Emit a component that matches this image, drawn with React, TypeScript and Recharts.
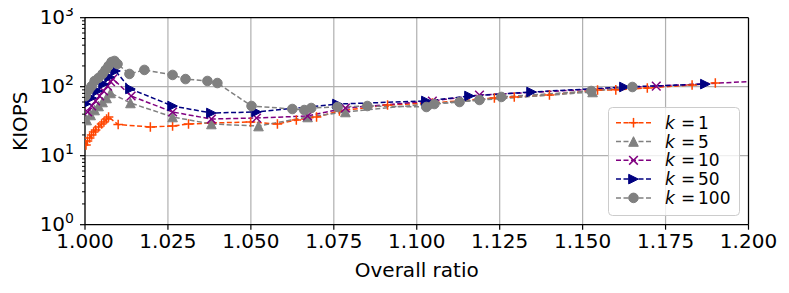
import React from 'react';
import { LineChart, Line, XAxis, YAxis, CartesianGrid, ReferenceLine, Legend } from 'recharts';

const FONT = '"DejaVu Sans", "Liberation Sans", sans-serif';

// Tick values
const xTicks = [1.0, 1.025, 1.05, 1.075, 1.1, 1.125, 1.15, 1.175, 1.2];
const yMajorTicks = [1, 10, 100, 1000];
const yMinorTicks = [2, 3, 4, 5, 6, 7, 8, 9, 20, 30, 40, 50, 60, 70, 80, 90, 200, 300, 400, 500, 600, 700, 800, 900];

// k = 1
const k1Ratio = [1.0003, 1.00075, 1.0014, 1.002, 1.0026, 1.0032, 1.0041, 1.005, 1.0057, 1.0065, 1.0071, 1.01, 1.0197, 1.0264, 1.0312, 1.0381, 1.0499, 1.058, 1.0637, 1.0698, 1.0767, 1.0912, 1.1047, 1.1234, 1.1294, 1.14, 1.1545, 1.16, 1.1695, 1.183, 1.19];
const k1Kiops = [14.3, 16.3, 18.1, 20.0, 22.0, 23.6, 26.0, 28.8, 30.8, 34.0, 36.4, 28.3, 26.1, 26.9, 28.8, 29.8, 30.8, 28.8, 32.9, 36.4, 44.5, 54.3, 58.1, 68.6, 71.0, 75.8, 89.6, 90.0, 95.7, 106, 113];

// k = 5
const k5Ratio = [1.0005, 1.0017, 1.0029, 1.0041, 1.0053, 1.0065, 1.0077, 1.0137, 1.0264, 1.0381, 1.0523, 1.0671, 1.0785, 1.103, 1.153];
const k5Kiops = [32.9, 38.9, 45.9, 52.5, 60.0, 68.6, 81.1, 58.1, 36.4, 28.8, 26.9, 36.4, 43.0, 56.1, 83.8];

// k = 10
const k10Ratio = [1.0008, 1.002, 1.0032, 1.0044, 1.0056, 1.0068, 1.0077, 1.0084, 1.0139, 1.0264, 1.0381, 1.0517, 1.0671, 1.0785, 1.1047, 1.1189, 1.1722, 1.21];
const k10Kiops = [43.0, 52.5, 62.1, 73.3, 86.6, 102, 118, 130, 73.3, 43.0, 34.0, 35.2, 37.6, 49.1, 62.1, 75.8, 102, 125];

// k = 50
const k50Ratio = [1.0002, 1.002, 1.0038, 1.0056, 1.0074, 1.0092, 1.0137, 1.0264, 1.0381, 1.0517, 1.0761, 1.1029, 1.1159, 1.1346, 1.1626, 1.187];
const k50Kiops = [56.1, 68.6, 86.6, 109, 138, 169, 92.7, 52.5, 41.6, 43.0, 56.1, 62.1, 73.3, 83.8, 99, 109];

// k = 100
const k100Ratio = [1.0002, 1.0011, 1.002, 1.0029, 1.0041, 1.0053, 1.0062, 1.0071, 1.008, 1.0089, 1.0098, 1.0134, 1.0179, 1.0264, 1.0303, 1.0369, 1.0399, 1.0502, 1.0625, 1.0661, 1.0682, 1.0761, 1.0851, 1.1029, 1.1053, 1.1129, 1.1189, 1.1255, 1.1526, 1.165];
const k100Kiops = [73.3, 89.6, 102, 121, 134, 153, 175, 200, 228, 236, 213, 153, 175, 148, 129, 121, 113, 52.5, 47.5, 45.9, 49.1, 50.8, 52.5, 50.8, 56.1, 60.0, 64.2, 71.0, 86.6, 99];

const seriesLabels = ['1', '5', '10', '50', '100'];
const seriesColors = ['#ff4500', '#808080', '#800080', '#000080', '#808080'];
const seriesMarkers = ['plus', 'tri_up', 'x', 'tri_right', 'circle'];

const zip = (xs: number[], ys: number[]) => xs.map((x, i) => ({ x, y: ys[i] }));
const seriesData = [
  zip(k1Ratio, k1Kiops),
  zip(k5Ratio, k5Kiops),
  zip(k10Ratio, k10Kiops),
  zip(k50Ratio, k50Kiops),
  zip(k100Ratio, k100Kiops),
];

const S = 4.8;

function Marker({ shape, color, cx, cy }: { shape: string; color: string; cx: number; cy: number }) {
  switch (shape) {
    case 'plus':
      return (
        <g stroke={color} strokeWidth={1.5}>
          <line x1={cx - S} y1={cy} x2={cx + S} y2={cy} />
          <line x1={cx} y1={cy - S} x2={cx} y2={cy + S} />
        </g>
      );
    case 'x':
      return (
        <g stroke={color} strokeWidth={1.5}>
          <line x1={cx - S * 0.9} y1={cy - S * 0.9} x2={cx + S * 0.9} y2={cy + S * 0.9} />
          <line x1={cx - S * 0.9} y1={cy + S * 0.9} x2={cx + S * 0.9} y2={cy - S * 0.9} />
        </g>
      );
    case 'tri_up':
      return (
        <polygon
          points={`${cx},${cy - S} ${cx - S},${cy + S} ${cx + S},${cy + S}`}
          fill={color}
          stroke={color}
          strokeWidth={1}
        />
      );
    case 'tri_right':
      return (
        <polygon
          points={`${cx + S},${cy} ${cx - S},${cy - S} ${cx - S},${cy + S}`}
          fill={color}
          stroke={color}
          strokeWidth={1}
        />
      );
    default:
      return <circle cx={cx} cy={cy} r={S} fill={color} stroke={color} strokeWidth={1} />;
  }
}

const makeDot = (shape: string, color: string) => (props: any) => {
  const { cx, cy, index } = props;
  if (cx == null || cy == null || isNaN(cx) || isNaN(cy)) return <g key={`d-${index}`} />;
  return (
    <g key={`d-${index}`}>
      <Marker shape={shape} color={color} cx={cx} cy={cy} />
    </g>
  );
};

const YTick = (props: any) => {
  const { x, y, payload } = props;
  const v = payload.value;
  const isMajor = yMajorTicks.includes(v);
  if (!isMajor) {
    return <line x1={x - 3} y1={y} x2={x} y2={y} stroke="#000" strokeWidth={1} />;
  }
  const exp = Math.round(Math.log10(v));
  return (
    <g>
      <line x1={x - 5} y1={y} x2={x} y2={y} stroke="#000" strokeWidth={1.2} />
      <text x={x - 11} y={y + 6.5} textAnchor="end" fontSize={20} fontFamily={FONT} fill="#000">
        <tspan>10</tspan>
        <tspan dy={-8.5} fontSize={14}>{exp}</tspan>
      </text>
    </g>
  );
};

const LegendBox = () => {
  const rowY = [15.7, 34.5, 53.3, 72.1, 90.9];
  return (
    <svg width={132} height={110} style={{ display: 'block', overflow: 'visible' }}>
      <rect x={0.5} y={0.5} width={131} height={108} rx={4} ry={4} fill="#ffffff" fillOpacity={0.8} stroke="#cccccc" strokeWidth={1} />
      {seriesLabels.map((lab, i) => (
        <g key={lab}>
          <line x1={8} y1={rowY[i]} x2={44} y2={rowY[i]} stroke={seriesColors[i]} strokeWidth={1.5} strokeDasharray="5 2.5" />
          <Marker shape={seriesMarkers[i]} color={seriesColors[i]} cx={25.5} cy={rowY[i]} />
          <text y={rowY[i] + 6} fontSize={17} fontFamily={FONT} fill="#000">
            <tspan x={57} fontStyle="italic">k</tspan>
            <tspan x={73}>=</tspan>
            <tspan x={90}>{lab}</tspan>
          </text>
        </g>
      ))}
    </svg>
  );
};

export default function App() {
  return (
    <div style={{ width: 789, height: 293, marginLeft: -8, marginTop: -8, position: 'relative' }}>
      <LineChart width={789} height={293} margin={{ top: 17.7, right: 40.5, left: 0, bottom: 8.3 }}>
        <CartesianGrid horizontal={true} vertical={true} horizontalValues={[10, 100]} stroke="#b0b0b0" strokeWidth={1.2} />
        <XAxis
          dataKey="x"
          type="number"
          domain={[1, 1.2]}
          allowDataOverflow
          ticks={xTicks}
          interval={0}
          height={60}
          tickFormatter={(v: number) => v.toFixed(3)}
          tick={{ fontSize: 20, fontFamily: FONT, fill: '#000' }}
          tickSize={5}
          tickMargin={4}
          tickLine={{ stroke: '#000', strokeWidth: 1.2 }}
          axisLine={{ stroke: '#000', strokeWidth: 1.2 }}
          label={{ value: 'Overall ratio', position: 'insideBottom', offset: 8, fontSize: 20, fontFamily: FONT, fill: '#000' }}
        />
        <YAxis
          type="number"
          scale="log"
          domain={[1, 1000]}
          allowDataOverflow
          ticks={[...yMajorTicks, ...yMinorTicks]}
          interval={0}
          width={85}
          tick={<YTick />}
          tickSize={0}
          tickMargin={0}
          tickLine={false}
          axisLine={{ stroke: '#000', strokeWidth: 1.2 }}
          label={{ value: 'KIOPS', angle: -90, position: 'insideLeft', offset: 20, fontSize: 20, fontFamily: FONT, fill: '#000', style: { textAnchor: 'middle' } }}
        />
        <ReferenceLine y={1000} stroke="#000" strokeWidth={1.2} ifOverflow="visible" />
        <ReferenceLine x={1.2} stroke="#000" strokeWidth={1.2} ifOverflow="visible" />
        {seriesData.map((d, i) => (
          <Line
            key={seriesLabels[i]}
            data={d}
            dataKey="y"
            type="linear"
            stroke={seriesColors[i]}
            strokeWidth={1.5}
            strokeDasharray="5 2.5"
            dot={makeDot(seriesMarkers[i], seriesColors[i])}
            activeDot={false}
            isAnimationActive={false}
            name={`k = ${seriesLabels[i]}`}
          />
        ))}
        <Legend
          layout="horizontal"
          verticalAlign="middle"
          align="center"
          content={() => <LegendBox />}
          wrapperStyle={{ position: 'absolute', left: 608, top: 107, width: 132, height: 110 }}
        />
      </LineChart>
    </div>
  );
}
